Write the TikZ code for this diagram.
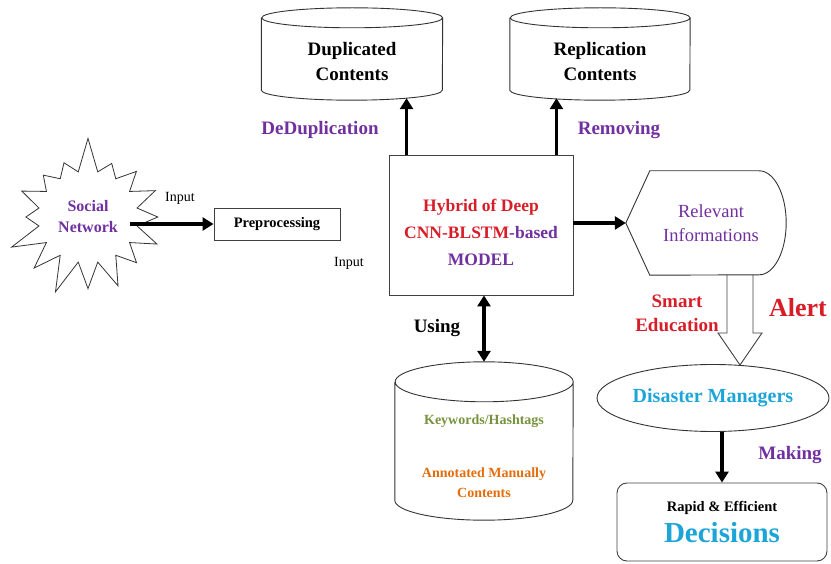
\documentclass[tikz,border=0pt]{standalone}
\usepackage{fontspec}
\setmainfont{Liberation Serif}
\usetikzlibrary{shapes,arrows.meta}
\definecolor{txtpurple}{RGB}{112,48,160}
\definecolor{txtred}{RGB}{215,30,40}
\definecolor{txtcyan}{RGB}{30,165,215}
\definecolor{txtgreen}{RGB}{118,146,60}
\definecolor{txtorange}{RGB}{228,108,10}
\begin{document}
\begin{tikzpicture}[x=1pt,y=-1pt,
      box/.style={draw=black!75,line width=0.9pt,align=center},
      db/.style={rectangle,inner sep=0pt},
      dbline/.style={draw=black!80,line width=0.9pt},
      arr/.style={line width=3.4pt,-{Triangle[length=11pt,width=13pt]}},
      lbl/.style={font=\fontsize{19}{24}\selectfont\bfseries,align=center}]
    \useasboundingbox (0,0) rectangle (831,564);
    % source and preprocessing
    \node[starburst,draw=black!80,line width=0.8pt,starburst points=16,
      starburst point height=36pt,random starburst=7,
      minimum width=172pt,minimum height=164pt,inner sep=0pt,
      align=center,text=txtpurple,font=\fontsize{16}{21}\selectfont\bfseries]
      (social) at (88,217) {Social\\Network};
    \node[box,minimum width=126pt,minimum height=32pt,
      font=\fontsize{14.5}{17}\selectfont\bfseries] (prep) at (277,224) {Preprocessing};
    \node[font=\fontsize{14}{17}\selectfont] (in1) at (180,198) {Input};
    \node[font=\fontsize{14}{17}\selectfont] (in2) at (349,263) {Input};
    % model
    \node[box,minimum width=184pt,minimum height=140pt] (model) at (481,225) {};
    \node[align=center,font=\fontsize{17.5}{27}\selectfont\bfseries] (modeltext)
      at ([yshift=-7pt]model.center)
      {\textcolor{txtred}{Hybrid of Deep}\\
       \textcolor{txtred}{CNN-BLSTM}\textcolor{txtpurple}{-based}\\
       \textcolor{txtpurple}{MODEL}};
    % storages
    \node[db,minimum width=181pt,minimum height=92pt] (dup) at (352,54) {};
    \node[align=center,font=\fontsize{19}{25}\selectfont\bfseries] (duptext)
      at ([yshift=-8pt]dup.center) {Duplicated\\Contents};
    \node[db,minimum width=180pt,minimum height=92pt] (rep) at (600,54) {};
    \node[align=center,font=\fontsize{19}{25}\selectfont\bfseries] (reptext)
      at ([yshift=-8pt]rep.center) {Replication\\Contents};
    \node[db,minimum width=178pt,minimum height=158pt] (kw) at (484,441) {};
    \node[align=center,font=\fontsize{14}{20}\selectfont\bfseries] (kwtext)
      at ([yshift=-15pt]kw.center)
      {\textcolor{txtgreen}{Keywords/Hashtags}\\[33pt]
       \textcolor{txtorange}{Annotated Manually}\\
       \textcolor{txtorange}{Contents}};
    \foreach \nd/\rx/\ry in {dup/90.5/10,rep/90/10,kw/89/20}
      \draw[dbline] ([yshift=-\ry pt]\nd.north west) -- ([yshift=\ry pt]\nd.south west)
        arc[start angle=180,end angle=360,x radius=\rx pt,y radius=\ry pt]
        -- ([yshift=-\ry pt]\nd.north east)
        arc[start angle=0,end angle=360,x radius=\rx pt,y radius=\ry pt];
    % outputs
    \node[minimum width=160pt,minimum height=104pt,align=center,text=txtpurple,
      font=\fontsize{18.5}{24}\selectfont] (rel) at (706,223)
      {\hspace*{10pt}Relevant\\\hspace*{10pt}Informations};
    \draw[dbline] (rel.west) -- ([xshift=24pt]rel.north west)
      -- ([xshift=-27pt]rel.north east)
      arc[start angle=90,end angle=-90,x radius=27pt,y radius=52pt]
      -- ([xshift=24pt]rel.south west) -- cycle;
    \node[ellipse,draw=black!80,line width=0.9pt,minimum width=232pt,minimum height=67pt,
      inner sep=0pt,text=txtcyan,font=\fontsize{20}{24}\selectfont\bfseries]
      (dm) at (713,398) {Disaster Managers};
    \node[box,rounded corners=10pt,minimum width=210pt,minimum height=78pt,
      font=\fontsize{14.5}{31}\selectfont\bfseries] (dec) at (722,522)
      {Rapid \& Efficient\\{\fontsize{29}{31}\selectfont\color{txtcyan}Decisions}};
    % hollow arrow
    \draw[draw=black!75,line width=0.9pt] (727,275) -- (727,333) -- (718,333)
      -- (740,365) -- (762,333) -- (753,333) -- (753,275);
    % connectors
    \draw[arr] ([xshift=42pt]social.center |- prep.west) -- (prep.west);
    \draw[arr] ([xshift=18pt]model.north west) -- ([xshift=18pt,yshift=2pt]model.north west |- dup.south);
    \draw[arr] ([xshift=-17pt]model.north east) -- ([xshift=-17pt,yshift=2pt]model.north east |- rep.south);
    \draw[arr] (model.east |- rel.west) -- (rel.west);
    \draw[line width=3.4pt,{Triangle[length=11pt,width=13pt]}-{Triangle[length=11pt,width=13pt]}]
      (model.south -| kw.north) -- (kw.north);
    \draw[arr] (dm.south -| dec.north) -- (dec.north);
    % labels
    \node[lbl,text=txtpurple] (ldd) at (320,130) {DeDuplication};
    \node[lbl,text=txtpurple] (lrm) at (619,130) {Removing};
    \node[lbl] (lus) at (437,328) {Using};
    \node[lbl,text=txtred] (lse) at (677,313) {Smart\\Education};
    \node[font=\fontsize{26}{30}\selectfont\bfseries,text=txtred] (lal) at (798,308) {Alert};
    \node[lbl,text=txtpurple] (lmk) at (790,455) {Making};
\end{tikzpicture}
\end{document}
